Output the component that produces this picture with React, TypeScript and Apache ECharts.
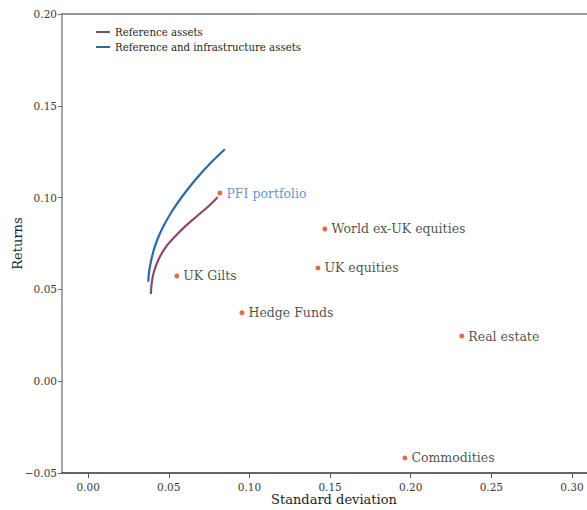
import React, { useEffect, useRef } from "react";
import * as echarts from "echarts";

const assetNames = ["PFI portfolio", "World ex-UK equities", "UK equities", "UK Gilts", "Hedge Funds", "Real estate", "Commodities"];
const assetStd = [0.0817, 0.1468, 0.1425, 0.055, 0.0954, 0.2317, 0.1964];
const assetRet = [0.1025, 0.0829, 0.0617, 0.0573, 0.0373, 0.0246, -0.0418];

const refStd = [0.0389, 0.0394, 0.0408, 0.0435, 0.0476, 0.0528, 0.06, 0.0683, 0.0755, 0.0803];
const refRet = [0.0475, 0.0533, 0.0596, 0.066, 0.0724, 0.0778, 0.0842, 0.0905, 0.096, 0.1002];

const infStd = [0.0373, 0.0377, 0.0387, 0.0404, 0.0428, 0.0466, 0.0518, 0.059, 0.0673, 0.0758, 0.0848];
const infRet = [0.0542, 0.0588, 0.0642, 0.0705, 0.0769, 0.0842, 0.0923, 0.1014, 0.1105, 0.1187, 0.1263];

const xTicks = [0, 0.05, 0.1, 0.15, 0.2, 0.25, 0.3];

const FONT = "DejaVu Serif";

export default function App() {
  const ref = useRef<HTMLDivElement>(null);
  useEffect(() => {
    if (!ref.current) return;
    const chart = echarts.init(ref.current, undefined, { renderer: "svg" });
    const fmt = (v: number) => (v < 0 ? "\u2212" + Math.abs(v).toFixed(2) : v.toFixed(2));
    chart.setOption({
      animation: false,
      textStyle: { fontFamily: FONT },
      grid: { left: 62, right: 0, top: 14, bottom: 37, containLabel: false, outerBoundsMode: "none" },
      legend: {
        left: 91,
        top: 22,
        orient: "vertical",
        itemGap: 5,
        itemWidth: 14,
        itemHeight: 2,
        icon: "rect",
        textStyle: { fontFamily: FONT, fontSize: 10.2, color: "#1e1e1e" },
        data: ["Reference assets", "Reference and infrastructure assets"],
      },
      xAxis: [
        {
          type: "value",
          min: -0.0162,
          max: 0.3093,
          splitLine: { show: false },
          axisLine: { onZero: false, lineStyle: { color: "#333", width: 1.5 } },
          axisTick: { show: true, customValues: xTicks, length: 5, lineStyle: { color: "#555" } },
          axisLabel: {
            customValues: xTicks,
            formatter: fmt,
            fontFamily: FONT,
            fontSize: 10.5,
            color: "#3a3a3a",
            margin: 8,
          },
          name: "Standard deviation",
          nameLocation: "middle",
          nameGap: 20,
          nameMoveOverlap: false,
          nameTextStyle: { fontFamily: FONT, fontSize: 13, color: "#1e1e1e", padding: [0, 0, 0, 19] },
        },
        {
          type: "value",
          position: "top",
          min: -0.0162,
          max: 0.3093,
          splitLine: { show: false },
          axisLine: { show: true, onZero: false, lineStyle: { color: "#777", width: 1.5 } },
          axisTick: { show: false },
          axisLabel: { show: false },
        },
      ],
      yAxis: {
        type: "value",
        min: -0.05,
        max: 0.2,
        interval: 0.05,
        splitLine: { show: false },
        axisLine: { show: true, onZero: false, lineStyle: { color: "#888", width: 1.5 } },
        axisTick: { show: true, length: 4, lineStyle: { color: "#666" } },
        axisLabel: { formatter: fmt, fontFamily: FONT, fontSize: 10.5, color: "#3a3a3a", margin: 5 },
        name: "Returns",
        nameLocation: "middle",
        nameGap: 38,
        nameMoveOverlap: false,
        nameTextStyle: { fontFamily: FONT, fontSize: 13, color: "#1e1e1e" },
      },
      series: [
        {
          name: "Reference assets",
          type: "line",
          smooth: 0.4,
          showSymbol: false,
          color: "#8a4a6e",
          lineStyle: { width: 2.2, color: "#8a4a6e" },
          data: refStd.map((x, i) => [x, refRet[i]]),
        },
        {
          name: "Reference and infrastructure assets",
          type: "line",
          smooth: 0.4,
          showSymbol: false,
          color: "#2d6aa3",
          lineStyle: { width: 2.2, color: "#2d6aa3" },
          data: infStd.map((x, i) => [x, infRet[i]]),
        },
        {
          name: "Assets",
          type: "scatter",
          symbolSize: 5,
          itemStyle: { color: "#d2481f" },
          label: {
            show: true,
            position: "right",
            distance: 4,
            formatter: (p: any) => p.name,
            fontFamily: FONT,
            fontSize: 12.5,
            color: "#1e1e1e",
          },
          data: assetNames.map((n, i) => ({
            name: n,
            value: [assetStd[i], assetRet[i]],
            label: i === 0 ? { color: "#4579b0" } : undefined,
          })),
        },
      ],
    });
    return () => chart.dispose();
  }, []);
  return <div ref={ref} style={{ width: 587, height: 510, position: "absolute", left: 0, top: 0 }} />;
}
